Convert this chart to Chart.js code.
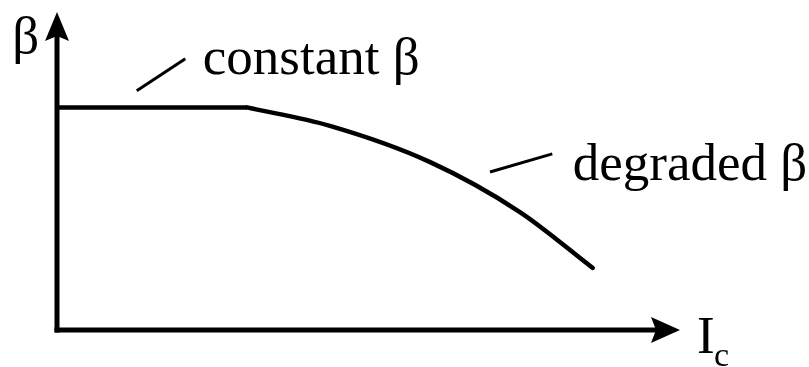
<!DOCTYPE html>
<html>
<head>
<meta charset="utf-8">
<script src="https://cdn.jsdelivr.net/npm/chart.js@4/dist/chart.umd.min.js"></script>
<style>
  html, body { margin: 0; padding: 0; background: #fff; }
  #wrap { width: 809px; height: 367px; }
</style>
</head>
<body>
<div id="wrap"><canvas id="betaChart"></canvas></div>
<script>
// beta vs collector current, schematic (arbitrary units 0..10)
// flat region
const flatX = [0, 3.05];
const flatY = [7.0, 7.0];
// roll-off region
const curveX = [3.05, 4.38, 5.99, 7.43, 8.60];
const curveY = [7.0, 6.42, 5.28, 3.71, 1.95];

// short leader strokes next to the labels
const leaderConstX = [1.28, 2.06];
const leaderConstY = [7.52, 8.53];
const leaderDegrX = [6.95, 7.95];
const leaderDegrY = [4.97, 5.54];

// text labels, anchored in data units (left edge, baseline)
const labelText = ['constant β', 'degraded β', 'β'];
const labelX = [2.34, 8.28, -0.72];
const labelY = [8.05, 4.72, 8.72];

const toPoints = (xs, ys) => xs.map((x, i) => ({ x: x, y: ys[i] }));

const serif = '"Liberation Serif", "Times New Roman", serif';

const axesPlugin = {
  id: 'axesPlugin',
  afterDatasetsDraw(chart) {
    const ctx = chart.ctx;
    const xs = chart.scales.x, ys = chart.scales.y;
    const x0 = xs.getPixelForValue(0), y0 = ys.getPixelForValue(0);
    const xEnd = xs.getPixelForValue(10), yEnd = ys.getPixelForValue(10);
    ctx.save();
    ctx.strokeStyle = '#000';
    ctx.fillStyle = '#000';
    ctx.lineWidth = 5;
    ctx.lineCap = 'butt';
    // y axis
    ctx.beginPath();
    ctx.moveTo(x0, y0 + 2.5);
    ctx.lineTo(x0, yEnd + 24);
    ctx.stroke();
    ctx.beginPath();
    ctx.moveTo(x0, yEnd);
    ctx.lineTo(x0 - 12, yEnd + 29);
    ctx.lineTo(x0, yEnd + 24);
    ctx.lineTo(x0 + 12, yEnd + 29);
    ctx.closePath();
    ctx.fill();
    // x axis
    ctx.beginPath();
    ctx.moveTo(x0 - 2.5, y0);
    ctx.lineTo(xEnd - 24, y0);
    ctx.stroke();
    ctx.beginPath();
    ctx.moveTo(xEnd, y0);
    ctx.lineTo(xEnd - 29, y0 - 13);
    ctx.lineTo(xEnd - 24, y0);
    ctx.lineTo(xEnd - 29, y0 + 13);
    ctx.closePath();
    ctx.fill();

    // labels
    ctx.textBaseline = 'alphabetic';
    ctx.textAlign = 'left';
    ctx.font = '53px ' + serif;
    labelText.forEach((t, i) => {
      ctx.fillText(t, xs.getPixelForValue(labelX[i]), ys.getPixelForValue(labelY[i]));
    });
    // I_c
    ctx.fillText('I', xEnd + 17, y0 + 23);
    ctx.font = '34px ' + serif;
    ctx.fillText('c', xEnd + 34, y0 + 36);
    ctx.restore();
  }
};

const lineStyle = {
  borderColor: '#000',
  pointRadius: 0,
  fill: false,
  clip: false
};

new Chart(document.getElementById('betaChart'), {
  type: 'line',
  data: {
    datasets: [
      Object.assign({ data: toPoints(flatX, flatY), borderWidth: 4.5 }, lineStyle),
      Object.assign({ data: toPoints(curveX, curveY), borderWidth: 4.5, borderCapStyle: 'round', cubicInterpolationMode: 'monotone' }, lineStyle),
      Object.assign({ data: toPoints(leaderConstX, leaderConstY), borderWidth: 3 }, lineStyle),
      Object.assign({ data: toPoints(leaderDegrX, leaderDegrY), borderWidth: 3 }, lineStyle)
    ]
  },
  options: {
    responsive: true,
    maintainAspectRatio: false,
    animation: false,
    layout: { padding: { left: 57, right: 129, top: 12, bottom: 37 } },
    plugins: { legend: { display: false }, tooltip: { enabled: false } },
    scales: {
      x: { type: 'linear', min: 0, max: 10, display: false },
      y: { type: 'linear', min: 0, max: 10, display: false }
    }
  },
  plugins: [axesPlugin]
});
</script>
</body>
</html>
